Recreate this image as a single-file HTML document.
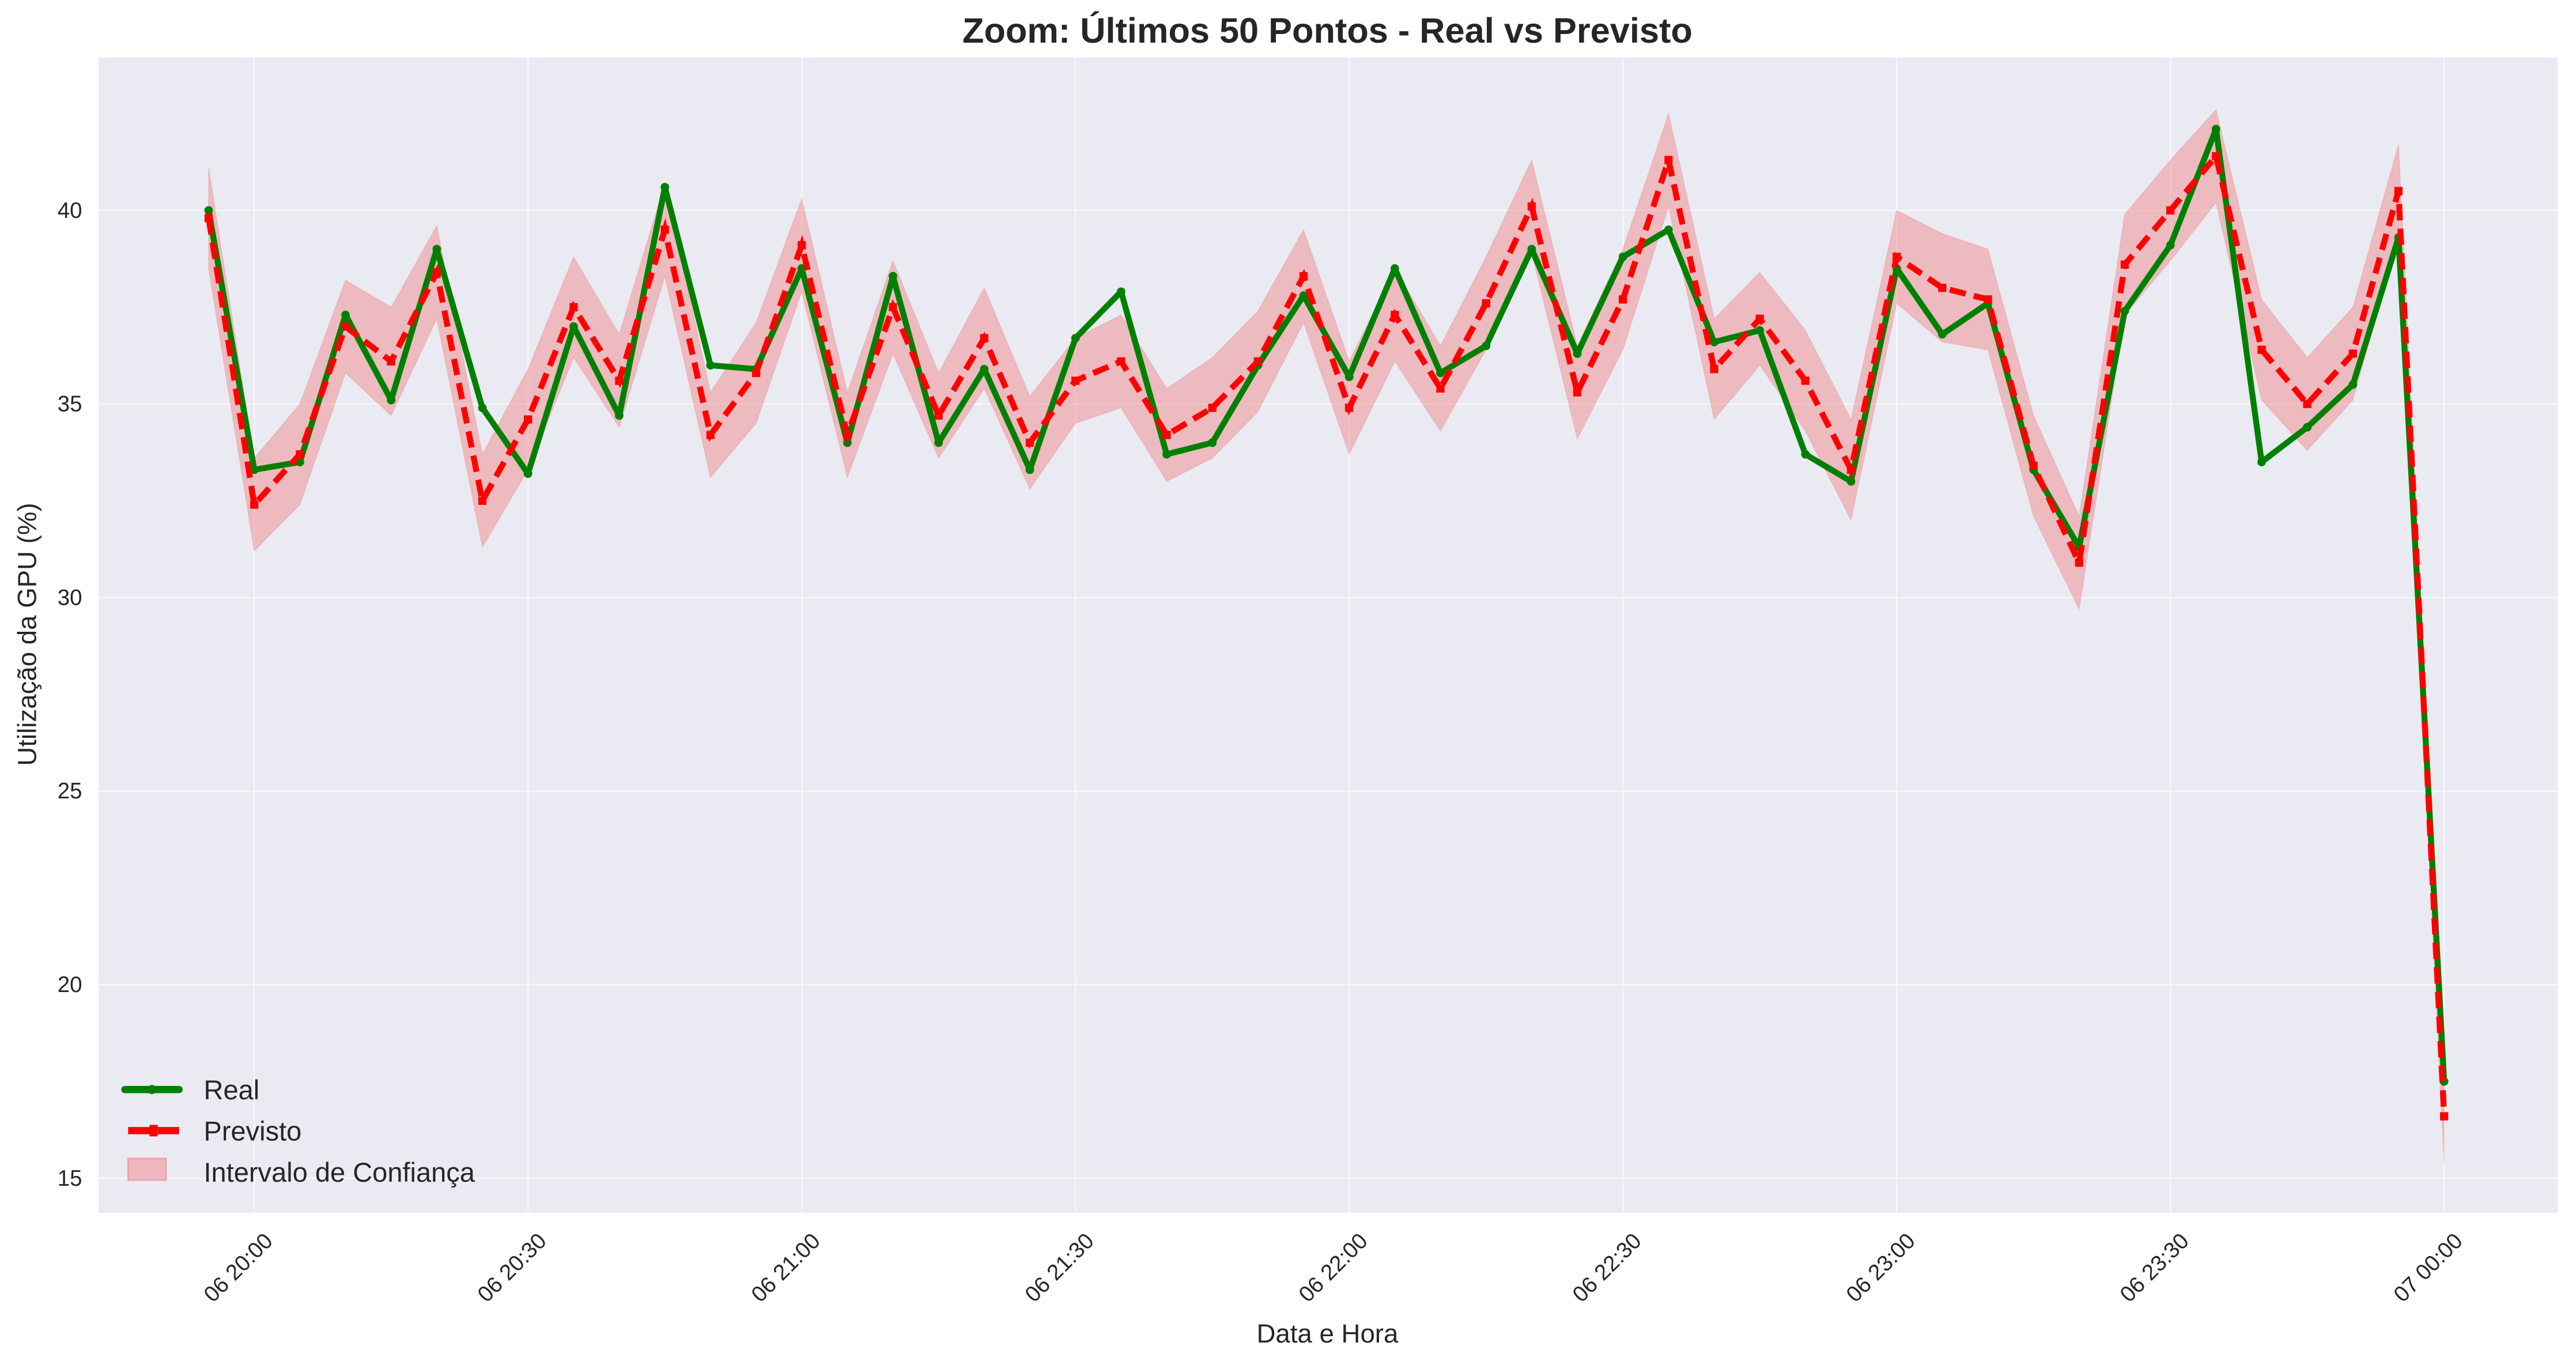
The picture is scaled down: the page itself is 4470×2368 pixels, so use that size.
<!DOCTYPE html>
<html><head><meta charset="utf-8"><style>
html,body{margin:0;padding:0;background:#fff}
svg{display:block}
text{font-family:"Liberation Sans",sans-serif;fill:#262626}
</style></head><body>
<svg id="chart" width="4470" height="2368" viewBox="0 0 1568 830.6" xmlns="http://www.w3.org/2000/svg">
<rect x="0" y="0" width="1568" height="830.6" fill="#fff"/>
<text x="808" y="26" font-size="21.5" font-weight="bold" text-anchor="middle">Zoom: Últimos 50 Pontos - Real vs Previsto</text>
<rect x="60" y="35" width="1497" height="703" fill="#EAEAF2"/>
<g id="grid"></g>
<g id="ci"></g>
<g id="lines"></g>
<g id="ticks"></g>
<text transform="translate(22,386) rotate(-90)" font-size="16" text-anchor="middle">Utilização da GPU (%)</text>
<text x="808" y="817" font-size="16" text-anchor="middle">Data e Hora</text>
<g>
 <g>
  <line x1="76" y1="663" x2="109" y2="663" stroke="#008000" stroke-width="4.4" stroke-linecap="round"/>
  <circle cx="92.5" cy="663" r="2.8" fill="#008000"/>
  <text x="124" y="669" font-size="16.5">Real</text>
 </g>
 <g>
  <line x1="78" y1="688" x2="109" y2="688" stroke="#ff0000" stroke-width="4.4" stroke-dasharray="15,3"/>
  <rect x="91" y="684.5" width="5" height="7" fill="#ff0000"/>
  <text x="124" y="694" font-size="16.5">Previsto</text>
 </g>
 <g>
  <rect x="78" y="705" width="23" height="13" fill="#F0A0A8" fill-opacity="0.7" stroke="#f0a0a8"/>
  <text x="124" y="719" font-size="16.5">Intervalo de Confiança</text>
 </g>
</g>
</svg>
<script>
const real = [40.0,33.3,33.5,37.3,35.1,39.0,34.9,33.2,37.0,34.7,40.6,36.0,35.9,38.5,34.0,38.3,34.0,35.9,33.3,36.7,37.9,33.7,34.0,36.0,37.8,35.7,38.5,35.8,36.5,39.0,36.3,38.8,39.5,36.6,36.9,33.7,33.0,38.5,36.8,37.6,33.3,31.3,37.4,39.1,42.1,33.5,34.4,35.5,39.3,17.5];
const previsto = [39.8,32.4,33.7,37.0,36.1,38.4,32.5,34.6,37.5,35.6,39.5,34.2,35.8,39.1,34.2,37.5,34.7,36.7,34.0,35.6,36.1,34.2,34.9,36.1,38.3,34.9,37.3,35.4,37.6,40.1,35.3,37.7,41.3,35.9,37.2,35.6,33.3,38.8,38.0,37.7,33.4,30.9,38.6,40.0,41.4,36.4,35.0,36.3,40.5,16.6];
const ciHalf = [1.3,1.2,1.3,1.2,1.4,1.2,1.2,1.3,1.3,1.2,1.2,1.1,1.3,1.2,1.1,1.2,1.1,1.3,1.2,1.1,1.2,1.2,1.3,1.3,1.2,1.2,1.2,1.1,1.2,1.2,1.2,1.3,1.2,1.3,1.2,1.3,1.3,1.2,1.4,1.3,1.3,1.2,1.3,1.3,1.2,1.3,1.2,1.2,1.2,1.2];
const yTicks = [15,20,25,30,35,40];
const xTickLabels = ["06 20:00","06 20:30","06 21:00","06 21:30","06 22:00","06 22:30","06 23:00","06 23:30","07 00:00"];
const xTickMinutes = [5,35,65,95,125,155,185,215,245];
const stepMinutes = 5;

const NS="http://www.w3.org/2000/svg";
const x0=127, pxPerMin=27.77/5;
function xScale(min){return x0+min*pxPerMin;}
function yScale(v){return 128+(40-v)*23.56;}
function mk(tag,attrs,parent){const e=document.createElementNS(NS,tag);for(const k in attrs)e.setAttribute(k,attrs[k]);parent.appendChild(e);return e;}
const gGrid=document.getElementById('grid'),gTicks=document.getElementById('ticks'),gCi=document.getElementById('ci'),gLines=document.getElementById('lines');

yTicks.forEach(v=>{
 const l=mk('line',{x1:60,x2:1557,y1:yScale(v),y2:yScale(v),stroke:'#fff','stroke-width':0.9,'stroke-opacity':0.6},gGrid);
 
 
 const t=mk('text',{x:50,y:yScale(v)+4.5,'font-size':13.5,'text-anchor':'end'},gTicks);
 t.textContent=v;
 
 
});
xTickMinutes.forEach((m,i)=>{
 const x=xScale(m);
 const l=mk('line',{x1:x,x2:x,y1:35,y2:738,stroke:'#fff','stroke-width':0.9,'stroke-opacity':0.6},gGrid);
 
 
 const t=mk('text',{transform:`translate(${x+12},${756}) rotate(-45)`,'font-size':13.5,'text-anchor':'end'},gTicks);
 t.textContent=xTickLabels[i];
 
 
});

const xs=real.map((_,i)=>xScale(i*stepMinutes));
const upperPts=previsto.map((p,i)=>`${xs[i]},${yScale(p+ciHalf[i])}`);
const lowerPts=previsto.map((p,i)=>`${xs[i]},${yScale(p-ciHalf[i])}`).reverse();
const band=mk('polygon',{points:upperPts.concat(lowerPts).join(' '),fill:'#F08080','fill-opacity':0.45,stroke:'#F08080','stroke-opacity':0.3,'stroke-width':0.5},gCi);



const rl=mk('polyline',{points:real.map((v,i)=>`${xs[i]},${yScale(v)}`).join(' '),fill:'none',stroke:'#008000','stroke-width':3.6,'stroke-linejoin':'round'},gLines);


real.forEach((v,i)=>{
 const c=mk('circle',{cx:xs[i],cy:yScale(v),r:2.6,fill:'#008000'},gLines);
 
 
});
const pl=mk('polyline',{points:previsto.map((v,i)=>`${xs[i]},${yScale(v)}`).join(' '),fill:'none',stroke:'#ff0000','stroke-width':3.6,'stroke-dasharray':'10,5'},gLines);


previsto.forEach((v,i)=>{
 const r=mk('rect',{x:xs[i]-2.5,y:yScale(v)-2.5,width:5,height:5,fill:'#ff0000'},gLines);
 
 
});
</script>
</body></html>
